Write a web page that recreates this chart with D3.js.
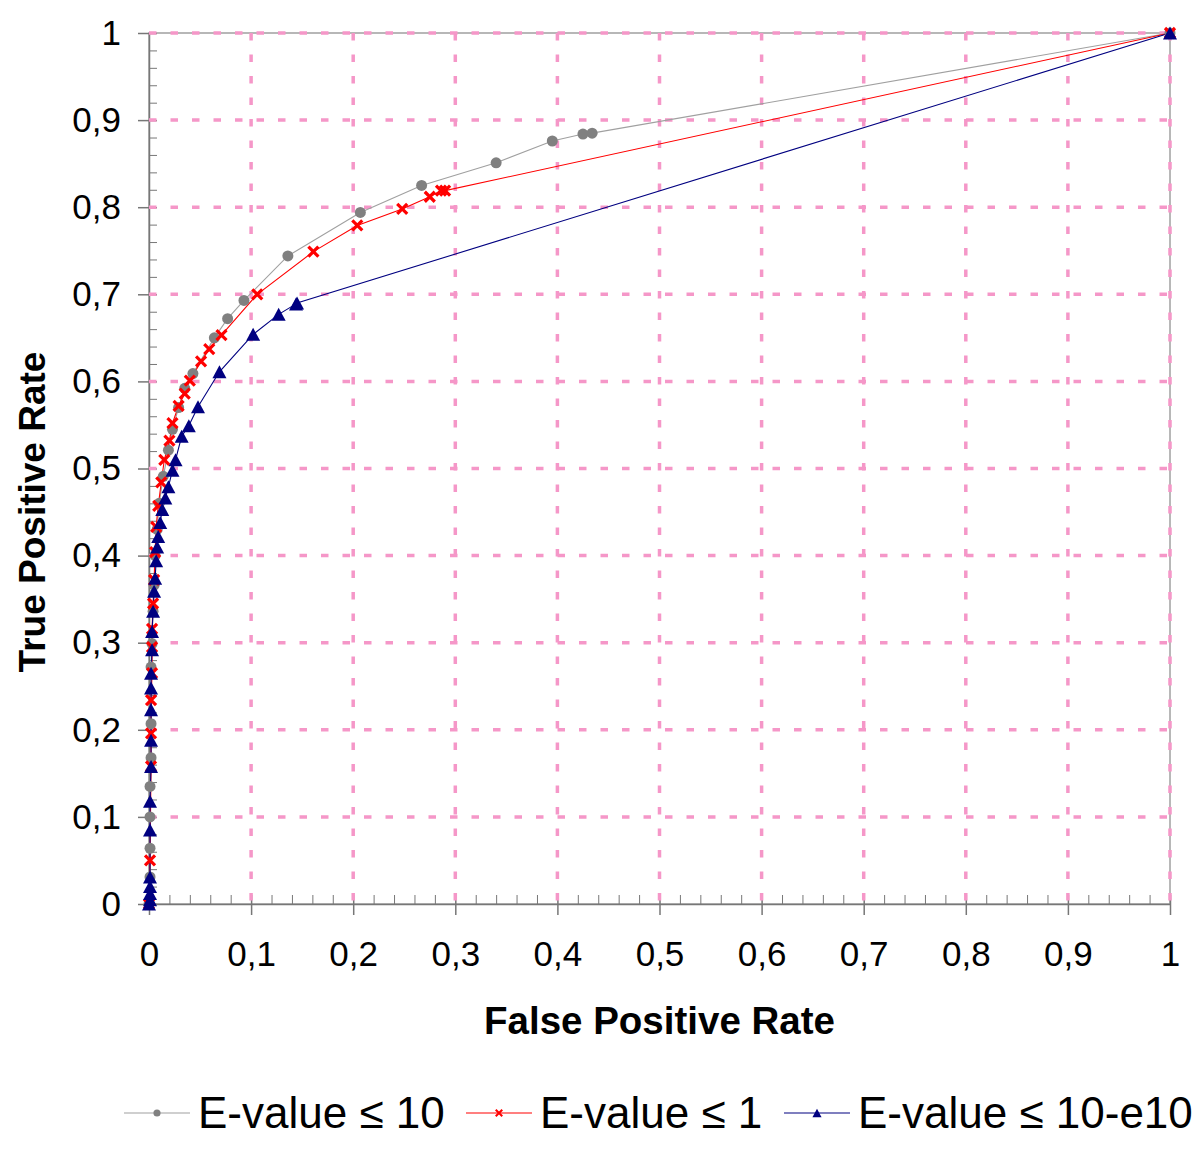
<!DOCTYPE html>
<html>
<head>
<meta charset="utf-8">
<script src="https://cdn.jsdelivr.net/npm/d3@7"></script>
<style>
  body { margin: 0; background: #fff; }
  svg { display: block; font-family: "Liberation Sans", Arial, sans-serif; }
</style>
</head>
<body>
<div id="chart"></div>
<script>
// ROC points, [false positive rate, true positive rate]
const evalue10 = [
  [0, 0], [0.001, 0.031], [0.001, 0.064], [0.001, 0.100], [0.001, 0.135],
  [0.002, 0.168], [0.002, 0.207], [0.002, 0.272], [0.003, 0.299], [0.004, 0.336],
  [0.005, 0.366], [0.006, 0.400], [0.008, 0.430], [0.010, 0.460], [0.014, 0.491],
  [0.019, 0.521], [0.023, 0.545], [0.029, 0.570], [0.035, 0.592], [0.043, 0.609],
  [0.064, 0.650], [0.077, 0.672], [0.093, 0.693], [0.136, 0.744], [0.207, 0.794],
  [0.267, 0.825], [0.340, 0.851], [0.395, 0.876], [0.425, 0.884], [0.434, 0.885],
  [1, 1]
];
const evalue1 = [
  [0, 0], [0.001, 0.050], [0.002, 0.158], [0.002, 0.196], [0.002, 0.234],
  [0.003, 0.265], [0.003, 0.295], [0.003, 0.316], [0.004, 0.345], [0.005, 0.372],
  [0.006, 0.404], [0.007, 0.433], [0.009, 0.457], [0.012, 0.484], [0.015, 0.510],
  [0.020, 0.532], [0.023, 0.552], [0.029, 0.572], [0.035, 0.586], [0.040, 0.601],
  [0.051, 0.623], [0.059, 0.637], [0.071, 0.653], [0.106, 0.700], [0.161, 0.749],
  [0.204, 0.779], [0.248, 0.798], [0.275, 0.812], [0.286, 0.819], [0.290, 0.819],
  [1, 1]
];
const evalue1e10 = [
  [0, 0], [0.001, 0.005], [0.001, 0.012], [0.001, 0.020], [0.001, 0.031],
  [0.001, 0.085], [0.001, 0.118], [0.002, 0.158], [0.002, 0.188], [0.002, 0.223],
  [0.002, 0.248], [0.002, 0.265], [0.003, 0.292], [0.003, 0.313], [0.004, 0.336],
  [0.005, 0.359], [0.006, 0.374], [0.007, 0.394], [0.008, 0.410], [0.009, 0.422],
  [0.011, 0.438], [0.013, 0.453], [0.016, 0.466], [0.019, 0.479], [0.023, 0.498],
  [0.026, 0.510], [0.032, 0.537], [0.039, 0.549], [0.048, 0.571], [0.069, 0.611],
  [0.102, 0.654], [0.127, 0.677], [0.144, 0.689], [0.145, 0.690], [1, 1]
];
const seriesNames = ["E-value \u2264 10", "E-value \u2264 1", "E-value \u2264 10-e10"];
const majorTicks = d3.range(0, 11).map(i => i / 10);
const minorTicks = d3.range(0, 51).map(i => i / 50).filter((d, i) => i % 5 !== 0);

const width = 1200;
const height = 1149;
const fmt = d => d === 0 ? "0" : d === 1 ? "1" : String(d).replace(".", ",");

const xScale = d3.scaleLinear().domain([0, 1]).range([149, 1170]);
const yScale = d3.scaleLinear().domain([0, 1]).range([904, 33]);

const svg = d3.select("#chart").append("svg")
  .attr("width", width)
  .attr("height", height);

// plot frame (top / right)
svg.append("rect")
  .attr("x", xScale(0)).attr("y", yScale(1))
  .attr("width", xScale(1) - xScale(0))
  .attr("height", yScale(0) - yScale(1))
  .attr("fill", "none")
  .attr("stroke", "#a0a0a0")
  .attr("stroke-width", 1.5);

// minor ticks, inside
svg.append("g")
  .attr("transform", `translate(0, ${yScale(0)})`)
  .call(d3.axisBottom(xScale).tickValues(minorTicks).tickFormat("").tickSizeInner(-9).tickSizeOuter(0))
  .call(g => g.select(".domain").remove())
  .call(g => g.selectAll("line").attr("stroke", "#777"));
svg.append("g")
  .attr("transform", `translate(${xScale(0)}, 0)`)
  .call(d3.axisLeft(yScale).tickValues(minorTicks).tickFormat("").tickSizeInner(-8).tickSizeOuter(0))
  .call(g => g.select(".domain").remove())
  .call(g => g.selectAll("line").attr("stroke", "#777"));

// major axes
const xAxis = svg.append("g")
  .attr("transform", `translate(0, ${yScale(0)})`)
  .call(d3.axisBottom(xScale).tickValues(majorTicks).tickFormat(fmt).tickSize(11).tickSizeOuter(0).tickPadding(26));
const yAxis = svg.append("g")
  .attr("transform", `translate(${xScale(0)}, 0)`)
  .call(d3.axisLeft(yScale).tickValues(majorTicks).tickFormat(fmt).tickSize(11).tickSizeOuter(0).tickPadding(17));
[xAxis, yAxis].forEach(g => {
  g.select(".domain").attr("stroke", "#777").attr("stroke-width", 1.5);
  g.selectAll(".tick line").attr("stroke", "#777").attr("stroke-width", 1.5);
  g.selectAll(".tick text")
    .attr("font-size", 35)
    .attr("font-family", "'Liberation Sans', Arial, sans-serif")
    .attr("fill", "#000");
});
xAxis.selectAll(".tick line").attr("y1", -9);
yAxis.selectAll(".tick line").attr("x1", 8);

// pink dashed grid
const grid = svg.append("g")
  .attr("stroke", "#f597c8")
  .attr("stroke-width", 3.5)
  .attr("stroke-dasharray", "7.5,14");
grid.selectAll(".gx").data(majorTicks.slice(1)).join("line")
  .attr("x1", d => xScale(d)).attr("x2", d => xScale(d))
  .attr("y1", yScale(1)).attr("y2", yScale(0));
grid.selectAll(".gy").data(majorTicks.slice(1)).join("line")
  .attr("x1", xScale(0)).attr("x2", xScale(1))
  .attr("y1", d => yScale(d)).attr("y2", d => yScale(d));

// axis titles
svg.append("text")
  .attr("x", (xScale(0) + xScale(1)) / 2)
  .attr("y", 1034)
  .attr("text-anchor", "middle")
  .attr("font-size", 38.5)
  .attr("font-weight", "bold")
  .text("False Positive Rate");
svg.append("text")
  .attr("transform", "translate(45, 512) rotate(-90)")
  .attr("text-anchor", "middle")
  .attr("font-size", 37)
  .attr("font-weight", "bold")
  .text("True Positive Rate");

const line = d3.line().x(d => xScale(d[0])).y(d => yScale(d[1]));

const series = [
  { data: evalue10, stroke: "#a0a0a0", fill: "#808080", marker: "circle" },
  { data: evalue1, stroke: "#ff0000", fill: "#ff0000", marker: "cross" },
  { data: evalue1e10, stroke: "#000080", fill: "#000080", marker: "triangle" }
];

function drawMarker(sel, type, color, s) {
  if (type === "circle") {
    sel.append("circle").attr("r", 5.5 * s).attr("fill", color);
  } else if (type === "cross") {
    const r = 5 * s;
    sel.append("path")
      .attr("d", `M${-r},${-r}L${r},${r}M${-r},${r}L${r},${-r}`)
      .attr("stroke", color)
      .attr("stroke-width", 3.2 * s)
      .attr("fill", "none");
  } else {
    const w = 7 * s, h = 6.5 * s;
    sel.append("path")
      .attr("d", `M0,${-h}L${w},${h}L${-w},${h}Z`)
      .attr("fill", color);
  }
}

series.forEach(s => {
  svg.append("path")
    .datum(s.data)
    .attr("fill", "none")
    .attr("stroke", s.stroke)
    .attr("stroke-width", 1.1)
    .attr("d", line);
});
series.forEach(s => {
  svg.append("g").selectAll("g").data(s.data).join("g")
    .attr("transform", d => `translate(${xScale(d[0])}, ${yScale(d[1])})`)
    .each(function () { drawMarker(d3.select(this), s.marker, s.fill, 1); });
});

// legend
const legendX = [124, 466, 784];
const legendY = 1113;
series.forEach((s, i) => {
  const g = svg.append("g").attr("transform", `translate(${legendX[i]}, ${legendY})`);
  g.append("line").attr("x1", 0).attr("x2", 66)
    .attr("stroke", s.stroke).attr("stroke-width", 1.2);
  const m = g.append("g").attr("transform", "translate(33, 0)");
  drawMarker(m, s.marker, s.fill, 0.65);
  g.append("text")
    .attr("x", 74)
    .attr("y", 15)
    .attr("font-size", 44)
    .text(seriesNames[i]);
});
</script>
</body>
</html>
